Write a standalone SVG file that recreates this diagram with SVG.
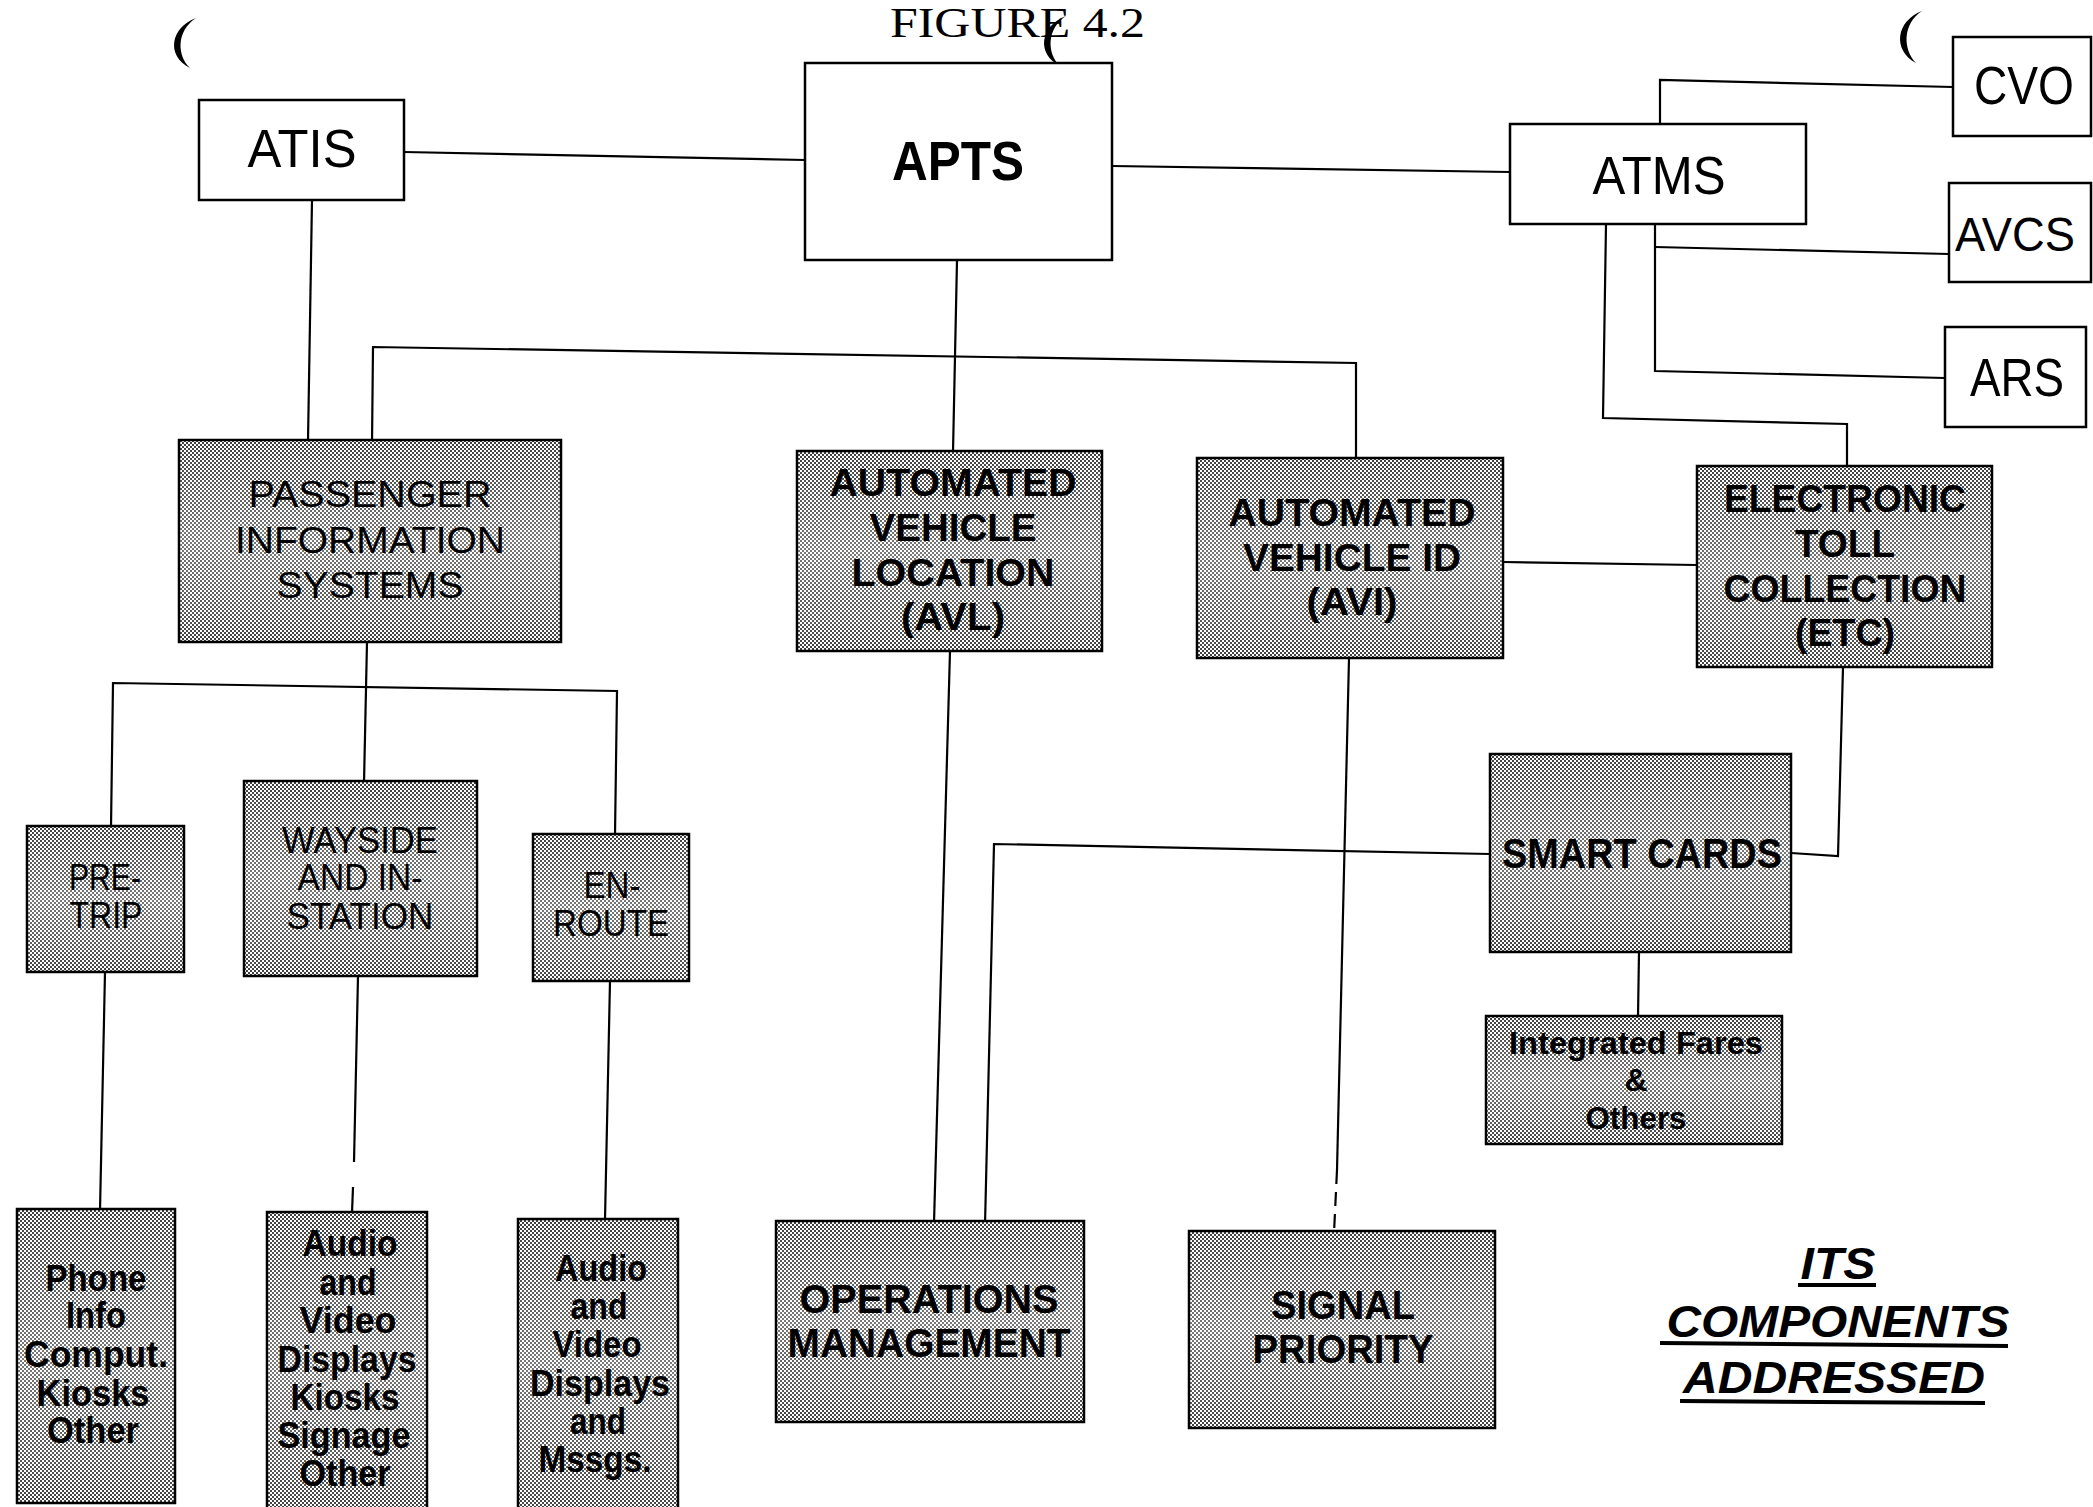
<svg xmlns="http://www.w3.org/2000/svg" width="2093" height="1507" viewBox="0 0 2093 1507">
<style>
.box{fill:#fff;stroke:#000;stroke-width:2.5}
.sh{fill:url(#dots);stroke:#000;stroke-width:2.5}
.fd{fill:url(#fade);stroke:none}
.big{font-family:"Liberation Sans",Arial,sans-serif;font-size:54px;fill:#000;text-anchor:middle}
.bigb{font-family:"Liberation Sans",Arial,sans-serif;font-size:56px;font-weight:bold;fill:#000;text-anchor:middle}
.reg{font-family:"Liberation Sans",Arial,sans-serif;font-size:37px;fill:#000;text-anchor:middle}
.bld{font-family:"Liberation Sans",Arial,sans-serif;font-size:39px;font-weight:bold;fill:#000;text-anchor:middle}
.sm{font-family:"Liberation Sans",Arial,sans-serif;font-size:36px;font-weight:bold;fill:#000;text-anchor:middle}
.its{font-family:"Liberation Sans",Arial,sans-serif;font-size:44px;font-weight:bold;font-style:italic;fill:#000;text-anchor:middle}
.fig{font-family:"Liberation Serif","Times New Roman",serif;font-size:42px;fill:#000}
.ln{fill:none;stroke:#000;stroke-width:2.2}
</style>
<defs>
<pattern id="dots" width="4" height="4" patternUnits="userSpaceOnUse">
<rect width="4" height="4" fill="#fff"/>
<circle cx="1" cy="1" r="1" fill="#000"/>
<circle cx="3" cy="3" r="1" fill="#000"/>
</pattern>
<linearGradient id="fade" x1="0" y1="0" x2="0" y2="1">
<stop offset="0" stop-color="#fff" stop-opacity="0"/>
<stop offset="0.5" stop-color="#fff" stop-opacity="0.3"/>
<stop offset="0.85" stop-color="#fff" stop-opacity="0.12"/>
<stop offset="1" stop-color="#fff" stop-opacity="0"/>
</linearGradient>
</defs>
<rect width="2093" height="1507" fill="#fff"/>

<g id="marks" fill="#000">
<path d="M196,18 C170,28 166,56 190,68 C177,56 176,31 196,18 Z"/>
<path d="M1066,16 C1040,26 1036,54 1060,66 C1047,54 1046,29 1066,16 Z"/>
<path d="M1922,11 C1896,21 1892,50 1916,63 C1903,50 1902,24 1922,11 Z"/>
</g>
<text id="figure-title" class="fig" x="890" y="37" textLength="255" lengthAdjust="spacingAndGlyphs">FIGURE 4.2</text>

<g id="connectors">
<path class="ln" d="M404,152 L805,160"/>
<path class="ln" d="M1112,166 L1510,172"/>
<path class="ln" d="M312,200 L308,441"/>
<path class="ln" d="M957,260 L953,452"/>
<path class="ln" d="M372,444 L373,347 L1356,363 L1356,460"/>
<path class="ln" d="M1660,124 L1660,80 L1953,87"/>
<path class="ln" d="M1655,224 L1655,371 L1945,378"/>
<path class="ln" d="M1655,247 L1949,254"/>
<path class="ln" d="M1606,224 L1603,418 L1847,424 L1847,467"/>
<path class="ln" d="M1503,562 L1697,565"/>
<path class="ln" d="M367,642 L364,783"/>
<path class="ln" d="M111,828 L113,683 L617,691 L615,836"/>
<path class="ln" d="M105,972 L100,1211"/>
<path class="ln" d="M358,976 L354,1162"/>
<path class="ln" d="M353,1187 L352,1213"/>
<path class="ln" d="M610,981 L605,1220"/>
<path class="ln" d="M950,651 L934,1223"/>
<path class="ln" d="M1490,854 L994,844 L985,1225"/>
<path class="ln" d="M1843,667 L1838,856 L1791,853"/>
<path class="ln" d="M1349,658 L1337,1170"/>
<path class="ln" d="M1337,1170 L1334,1233" stroke-dasharray="14,8"/>
<path class="ln" d="M1639,952 L1638,1017"/>
</g>

<g id="atis"><rect class="box" x="199" y="100" width="205" height="100"/><text class="big" x="302" y="167" textLength="109" lengthAdjust="spacingAndGlyphs">ATIS</text></g>
<g id="apts"><rect class="box" x="805" y="63" width="307" height="197"/><text class="bigb" x="958" y="180" textLength="132" lengthAdjust="spacingAndGlyphs">APTS</text></g>
<g id="atms"><rect class="box" x="1510" y="124" width="296" height="100"/><text class="big" x="1659" y="194" textLength="133" lengthAdjust="spacingAndGlyphs">ATMS</text></g>
<g id="cvo"><rect class="box" x="1953" y="37" width="138" height="99"/><text class="big" x="2024" y="104" textLength="100" lengthAdjust="spacingAndGlyphs">CVO</text></g>
<g id="avcs"><rect class="box" x="1949" y="183" width="142" height="99"/><text class="big" style="font-size:48px" x="2015" y="251" textLength="120" lengthAdjust="spacingAndGlyphs">AVCS</text></g>
<g id="ars"><rect class="box" x="1945" y="327" width="141" height="100"/><text class="big" x="2017" y="396" textLength="94" lengthAdjust="spacingAndGlyphs">ARS</text></g>

<g id="pis"><rect class="sh" x="179" y="440" width="382" height="202"/><rect class="fd" x="180" y="441" width="380" height="200"/>
<text class="reg"><tspan x="370" y="507" textLength="243" lengthAdjust="spacingAndGlyphs">PASSENGER</tspan><tspan x="370" y="553" textLength="270" lengthAdjust="spacingAndGlyphs">INFORMATION</tspan><tspan x="370" y="598" textLength="187" lengthAdjust="spacingAndGlyphs">SYSTEMS</tspan></text></g>

<g id="avl"><rect class="sh" x="797" y="451" width="305" height="200"/><rect class="fd" x="798" y="452" width="303" height="198"/>
<text class="bld"><tspan x="953" y="496" textLength="247" lengthAdjust="spacingAndGlyphs">AUTOMATED</tspan><tspan x="953" y="541" textLength="167" lengthAdjust="spacingAndGlyphs">VEHICLE</tspan><tspan x="953" y="586" textLength="203" lengthAdjust="spacingAndGlyphs">LOCATION</tspan><tspan x="953" y="630" textLength="104" lengthAdjust="spacingAndGlyphs">(AVL)</tspan></text></g>

<g id="avi"><rect class="sh" x="1197" y="458" width="306" height="200"/><rect class="fd" x="1198" y="459" width="304" height="198"/>
<text class="bld"><tspan x="1352" y="526" textLength="247" lengthAdjust="spacingAndGlyphs">AUTOMATED</tspan><tspan x="1352" y="571" textLength="218" lengthAdjust="spacingAndGlyphs">VEHICLE ID</tspan><tspan x="1352" y="615" textLength="91" lengthAdjust="spacingAndGlyphs">(AVI)</tspan></text></g>

<g id="etc"><rect class="sh" x="1697" y="466" width="295" height="201"/><rect class="fd" x="1698" y="467" width="293" height="199"/>
<text class="bld"><tspan x="1845" y="512" textLength="242" lengthAdjust="spacingAndGlyphs">ELECTRONIC</tspan><tspan x="1845" y="557" textLength="100" lengthAdjust="spacingAndGlyphs">TOLL</tspan><tspan x="1845" y="602" textLength="243" lengthAdjust="spacingAndGlyphs">COLLECTION</tspan><tspan x="1845" y="646" textLength="100" lengthAdjust="spacingAndGlyphs">(ETC)</tspan></text></g>

<g id="smartcards"><rect class="sh" x="1490" y="754" width="301" height="198"/><rect class="fd" x="1491" y="755" width="299" height="196"/>
<text class="bld" style="font-size:42px" x="1642" y="868" textLength="280" lengthAdjust="spacingAndGlyphs">SMART CARDS</text></g>

<g id="fares"><rect class="sh" x="1486" y="1016" width="296" height="128"/><rect class="fd" x="1487" y="1017" width="294" height="126"/>
<text class="sm" style="font-size:32px"><tspan x="1636" y="1054" textLength="254" lengthAdjust="spacingAndGlyphs">Integrated Fares</tspan><tspan x="1636" y="1091">&amp;</tspan><tspan x="1636" y="1129" textLength="101" lengthAdjust="spacingAndGlyphs">Others</tspan></text></g>

<g id="pretrip"><rect class="sh" x="27" y="826" width="157" height="146"/><rect class="fd" x="28" y="827" width="155" height="144"/>
<text class="reg"><tspan x="105" y="890" textLength="72" lengthAdjust="spacingAndGlyphs">PRE-</tspan><tspan x="106" y="928" textLength="73" lengthAdjust="spacingAndGlyphs">TRIP</tspan></text></g>

<g id="wayside"><rect class="sh" x="244" y="781" width="233" height="195"/><rect class="fd" x="245" y="782" width="231" height="193"/>
<text class="reg"><tspan x="360" y="853" textLength="156" lengthAdjust="spacingAndGlyphs">WAYSIDE</tspan><tspan x="360" y="890" textLength="125" lengthAdjust="spacingAndGlyphs">AND IN-</tspan><tspan x="360" y="929" textLength="147" lengthAdjust="spacingAndGlyphs">STATION</tspan></text></g>

<g id="enroute"><rect class="sh" x="533" y="834" width="156" height="147"/><rect class="fd" x="534" y="835" width="154" height="145"/>
<text class="reg"><tspan x="612" y="898" textLength="57" lengthAdjust="spacingAndGlyphs">EN-</tspan><tspan x="611" y="936" textLength="116" lengthAdjust="spacingAndGlyphs">ROUTE</tspan></text></g>

<g id="phone"><rect class="sh" x="17" y="1209" width="158" height="294"/><rect class="fd" x="18" y="1210" width="156" height="292"/>
<text class="sm"><tspan x="96" y="1291" textLength="101" lengthAdjust="spacingAndGlyphs">Phone</tspan><tspan x="96" y="1328" textLength="60" lengthAdjust="spacingAndGlyphs">Info</tspan><tspan x="96" y="1367" textLength="144" lengthAdjust="spacingAndGlyphs">Comput.</tspan><tspan x="93" y="1406" textLength="113" lengthAdjust="spacingAndGlyphs">Kiosks</tspan><tspan x="93" y="1443" textLength="92" lengthAdjust="spacingAndGlyphs">Other</tspan></text></g>

<g id="audio1"><rect class="sh" x="267" y="1212" width="160" height="300"/><rect class="fd" x="268" y="1213" width="158" height="298"/>
<text class="sm"><tspan x="350" y="1256" textLength="95" lengthAdjust="spacingAndGlyphs">Audio</tspan><tspan x="348" y="1295" textLength="57" lengthAdjust="spacingAndGlyphs">and</tspan><tspan x="348" y="1333" textLength="97" lengthAdjust="spacingAndGlyphs">Video</tspan><tspan x="347" y="1372" textLength="139" lengthAdjust="spacingAndGlyphs">Displays</tspan><tspan x="345" y="1410" textLength="109" lengthAdjust="spacingAndGlyphs">Kiosks</tspan><tspan x="344" y="1448" textLength="133" lengthAdjust="spacingAndGlyphs">Signage</tspan><tspan x="345" y="1486" textLength="91" lengthAdjust="spacingAndGlyphs">Other</tspan></text></g>

<g id="audio2"><rect class="sh" x="518" y="1219" width="160" height="295"/><rect class="fd" x="519" y="1220" width="158" height="293"/>
<text class="sm"><tspan x="601" y="1281" textLength="92" lengthAdjust="spacingAndGlyphs">Audio</tspan><tspan x="599" y="1319" textLength="57" lengthAdjust="spacingAndGlyphs">and</tspan><tspan x="597" y="1357" textLength="89" lengthAdjust="spacingAndGlyphs">Video</tspan><tspan x="600" y="1396" textLength="140" lengthAdjust="spacingAndGlyphs">Displays</tspan><tspan x="598" y="1434" textLength="56" lengthAdjust="spacingAndGlyphs">and</tspan><tspan x="595" y="1472" textLength="113" lengthAdjust="spacingAndGlyphs">Mssgs.</tspan></text></g>

<g id="ops"><rect class="sh" x="776" y="1221" width="308" height="201"/><rect class="fd" x="777" y="1222" width="306" height="199"/>
<text class="bld" style="font-size:41px"><tspan x="929" y="1313" textLength="259" lengthAdjust="spacingAndGlyphs">OPERATIONS</tspan><tspan x="929" y="1357" textLength="283" lengthAdjust="spacingAndGlyphs">MANAGEMENT</tspan></text></g>

<g id="signal"><rect class="sh" x="1189" y="1231" width="306" height="197"/><rect class="fd" x="1190" y="1232" width="304" height="195"/>
<text class="bld" style="font-size:41px"><tspan x="1343" y="1319" textLength="144" lengthAdjust="spacingAndGlyphs">SIGNAL</tspan><tspan x="1343" y="1363" textLength="181" lengthAdjust="spacingAndGlyphs">PRIORITY</tspan></text></g>

<g id="its-title">
<text class="its"><tspan x="1838" y="1279" textLength="75" lengthAdjust="spacingAndGlyphs">ITS</tspan><tspan x="1838" y="1337" textLength="343" lengthAdjust="spacingAndGlyphs">COMPONENTS</tspan><tspan x="1834" y="1393" textLength="302" lengthAdjust="spacingAndGlyphs">ADDRESSED</tspan></text>
<path d="M1798,1285 L1876,1285 M1660,1343 L2008,1346 M1680,1401 L1985,1403" stroke="#000" stroke-width="4" fill="none"/>
</g>
</svg>
